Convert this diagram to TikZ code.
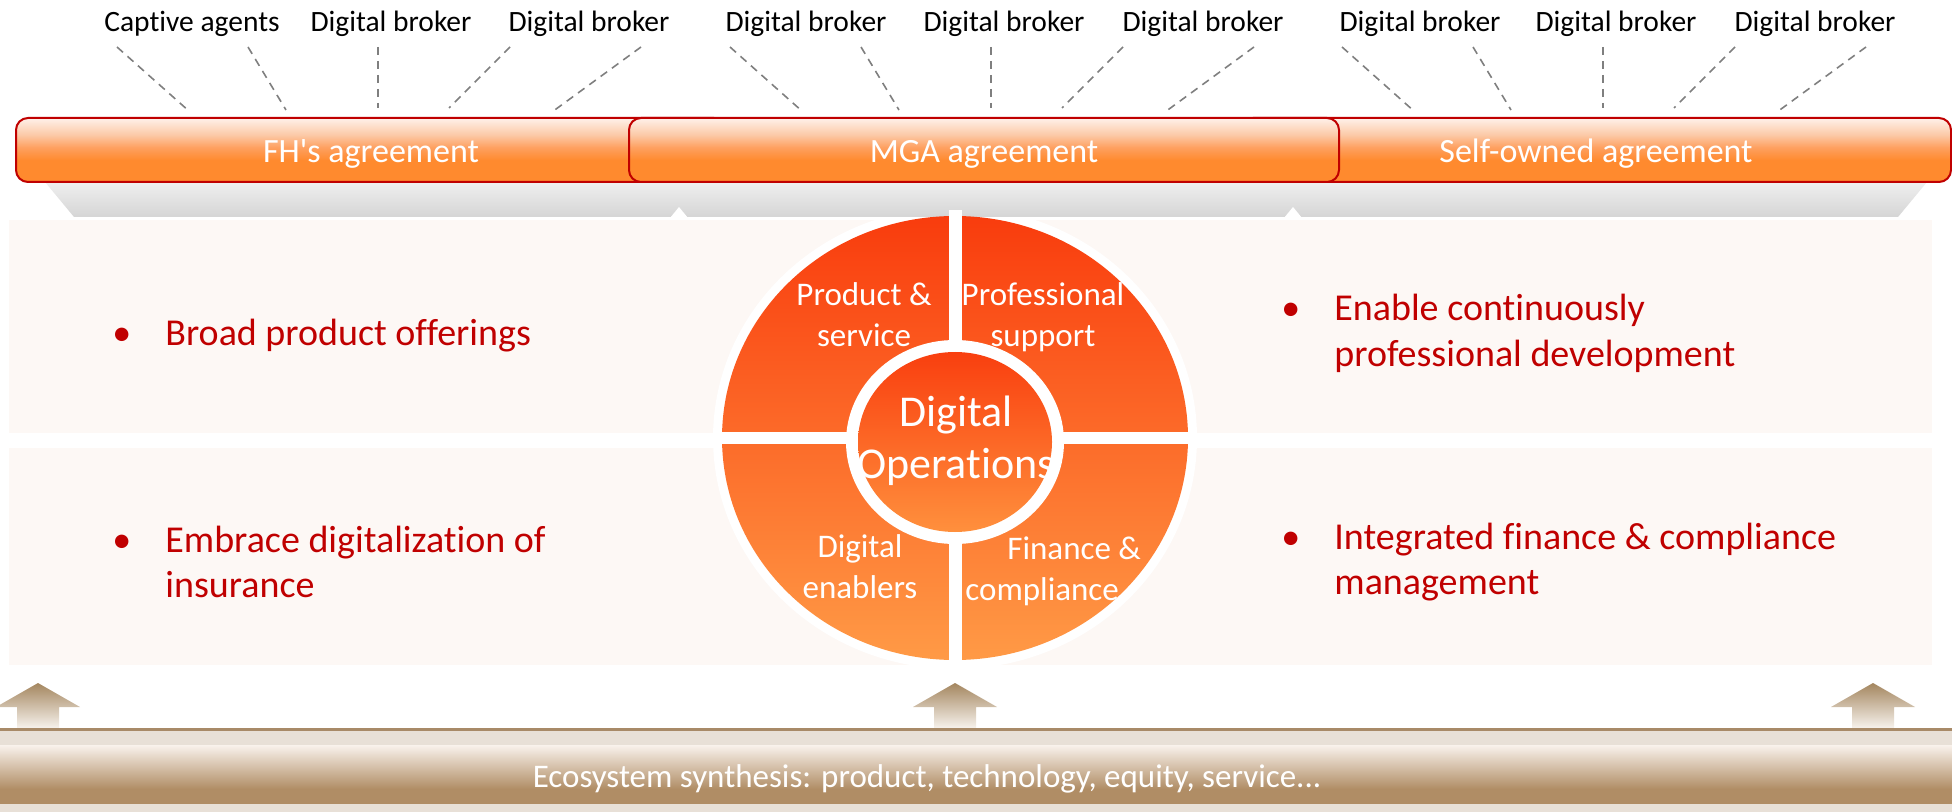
\documentclass[tikz,border=0pt]{standalone}
\usepackage{fontspec}
\setmainfont{Carlito}[Ligatures={TeX,NoCommon}]

\definecolor{barEdge}{HTML}{C00000}
\definecolor{barTop}{HTML}{FEF1EA}
\definecolor{barUp}{HTML}{FCCAA8}
\definecolor{barMid}{HTML}{FEA060}
\definecolor{barLow}{HTML}{FF8A2E}
\definecolor{fanGray}{HTML}{7F7F7F}
\definecolor{panelPink}{HTML}{FDF8F5}
\definecolor{shelfTop}{HTML}{EFEFEF}
\definecolor{shelfBot}{HTML}{D5D5D5}
\definecolor{ptRed}{HTML}{C00000}
\definecolor{discTop}{HTML}{F93C0D}
\definecolor{discMid}{HTML}{FC6F2B}
\definecolor{discBot}{HTML}{FF9A46}
\definecolor{coreTop}{HTML}{F93F0F}
\definecolor{coreMid}{HTML}{FC6626}
\definecolor{coreBot}{HTML}{FF903D}
\definecolor{arrTop}{HTML}{A4865F}
\definecolor{arrBot}{HTML}{F8F4EF}
\definecolor{bandLine}{HTML}{A88A68}
\definecolor{bandFill}{HTML}{E8E0D7}
\definecolor{ecoTop}{HTML}{F9F2EC}
\definecolor{ecoBot}{HTML}{B08D65}

% agreement bars: pale top fading into solid orange
\pgfdeclareverticalshading{agreeshade}{100bp}{color(0bp)=(barLow); color(25bp)=(barLow); color(42bp)=(barLow); color(52bp)=(barMid); color(62bp)=(barUp); color(75bp)=(barTop); color(100bp)=(barTop)}
% ecosystem band: pale top, tan lower part
\pgfdeclareverticalshading{ecoshade}{100bp}{color(0bp)=(ecoBot); color(25bp)=(ecoBot); color(37bp)=(ecoBot); color(75bp)=(ecoTop); color(100bp)=(ecoTop)}

\begin{document}
\begin{tikzpicture}[x=0.5pt,y=-0.5pt,
  toplabel/.style={font=\fontsize{14.75}{17}\selectfont, inner sep=0pt, anchor=base},
  fan/.style={draw=fanGray, line width=0.8pt, dash pattern=on 4pt off 3pt},
  agreement/.style={shade, shading=agreeshade, draw=barEdge, line width=1pt,
    rounded corners=6pt, minimum width=355pt, minimum height=32pt, inner sep=0pt,
    text=white, font=\fontsize{17}{20}\selectfont, text height=13pt, text depth=0pt},
  pointtext/.style={font=\fontsize{19}{22.75}\selectfont, text=ptRed, inner sep=0pt, anchor=base west},
  wheeltext/.style={font=\fontsize{16.5}{20.5}\selectfont, text=white, inner sep=0pt, anchor=base},
  uparrow/.style={top color=arrTop, bottom color=arrBot, draw=none}
]
\useasboundingbox (0,0) rectangle (1952,812);

% channel labels
\node[toplabel] (ch1) at (192,32) {Captive agents};
\node[toplabel] (ch2) at (391,32) {Digital broker};
\node[toplabel] (ch3) at (589,32) {Digital broker};
\node[toplabel] (ch4) at (806,32) {Digital broker};
\node[toplabel] (ch5) at (1004,32) {Digital broker};
\node[toplabel] (ch6) at (1203,32) {Digital broker};
\node[toplabel] (ch7) at (1420,32) {Digital broker};
\node[toplabel] (ch8) at (1616,32) {Digital broker};
\node[toplabel] (ch9) at (1815,32) {Digital broker};

% dashed fans converging on each agreement
\foreach \g/\c in {1/378,2/991,3/1603} {
  \foreach \i/\tx/\bx/\by in {1/-261/-188/112, 2/-130/-92/110, 3/0/0/108, 4/132/71/108, 5/263/174/112} {
    \coordinate (fan\g-\i-top) at (\c+\tx,47);
    \coordinate (fan\g-\i-foot) at (\c+\bx,\by);
    \draw[fan] (fan\g-\i-top) -- (fan\g-\i-foot);
  }
}

% light panels behind the bullet points
\fill[panelPink] (9,220) rectangle (1932,433);
\fill[panelPink] (9,448) rectangle (1932,665);

% white halo around the wheel
\fill[white] (955,438) ellipse [x radius=121pt, y radius=115.5pt];

% grey shelf under the agreement bars
\shade[top color=shelfTop, bottom color=shelfBot] (45,182) -- (1927,182) -- (1898,217) -- (74,217) -- cycle;
\fill[white] (679,207) -- (688,218) -- (670,218) -- cycle;
\fill[white] (1293,207) -- (1302,218) -- (1284,218) -- cycle;

% agreement bars (middle one on top)
\node[agreement] (fh) at (371,150) {FH\textquotesingle s agreement};
\node[agreement] (self) at (1596,150) {Self-owned agreement};
\node[agreement] (mga) at (984,150) {MGA agreement};

% wheel
\shade[top color=discTop, middle color=discMid, bottom color=discBot] (955,438) ellipse [x radius=116.5pt, y radius=111pt];
\fill[white] (948.5,210) rectangle (961.5,666);
\fill[white] (715,432) rectangle (1195,444);
\fill[white] (955,442) ellipse [x radius=54.5pt, y radius=51pt];
\shade[top color=coreTop, middle color=coreMid, bottom color=coreBot] (955,442) ellipse [x radius=48.5pt, y radius=45pt];

\node[wheeltext] (prod) at (864,306) {\begin{tabular}[t]{@{}c@{}}Product \&\\service\end{tabular}};
\node[wheeltext] (prof) at (1043,306) {\begin{tabular}[t]{@{}c@{}}Professional\\support\end{tabular}};
\node[wheeltext] (dige) at (860,557) {\begin{tabular}[t]{@{}c@{}}Digital\\enablers\end{tabular}};
\node[wheeltext, anchor=base west] (fin) at (965,559) {\begin{tabular}[t]{@{}l@{}}\hspace*{21pt}Finance \&\\compliance\end{tabular}};
\node[font=\fontsize{22}{26}\selectfont, text=white, inner sep=0pt, anchor=base] (core) at (956,426)
  {\begin{tabular}[t]{@{}c@{}}Digital\\Operations\end{tabular}};

% bullet points
\node[pointtext] (pt1) at (112,345) {\begin{tabular}[t]{@{}l@{}l@{}}\makebox[26.5pt][l]{\textbullet}&Broad product offerings\end{tabular}};
\node[pointtext] (pt2) at (112,552) {\begin{tabular}[t]{@{}l@{}l@{}}\makebox[26.5pt][l]{\textbullet}&Embrace digitalization of\\&insurance\end{tabular}};
\node[pointtext] (pt3) at (1281,321) {\begin{tabular}[t]{@{}l@{}l@{}}\makebox[26.5pt][l]{\textbullet}&Enable continuously\\&professional development\end{tabular}};
\node[pointtext] (pt4) at (1281,549) {\begin{tabular}[t]{@{}l@{}l@{}}\makebox[26.5pt][l]{\textbullet}&Integrated finance \& compliance\\&management\end{tabular}};

% upward arrows from the ecosystem
\foreach \cx in {38,955,1873} {
  \shade[uparrow] (\cx,683) -- (\cx+42,707) -- (\cx+21,707) -- (\cx+21,729) -- (\cx-21,729) -- (\cx-21,707) -- (\cx-42,707) -- cycle;
}

% ecosystem band
\fill[bandFill] (0,729) rectangle (1952,812);
\shade[shading=ecoshade] (0,745) rectangle (1952,803);
\draw[bandLine, line width=1.5pt] (0,729.5) -- (1952,729.5);
\node[font=\fontsize{16.5}{20}\selectfont, text=white, inner sep=0pt, anchor=base] (eco) at (927,787)
  {Ecosystem synthesis: product, technology, equity, service...};
\end{tikzpicture}
\end{document}
